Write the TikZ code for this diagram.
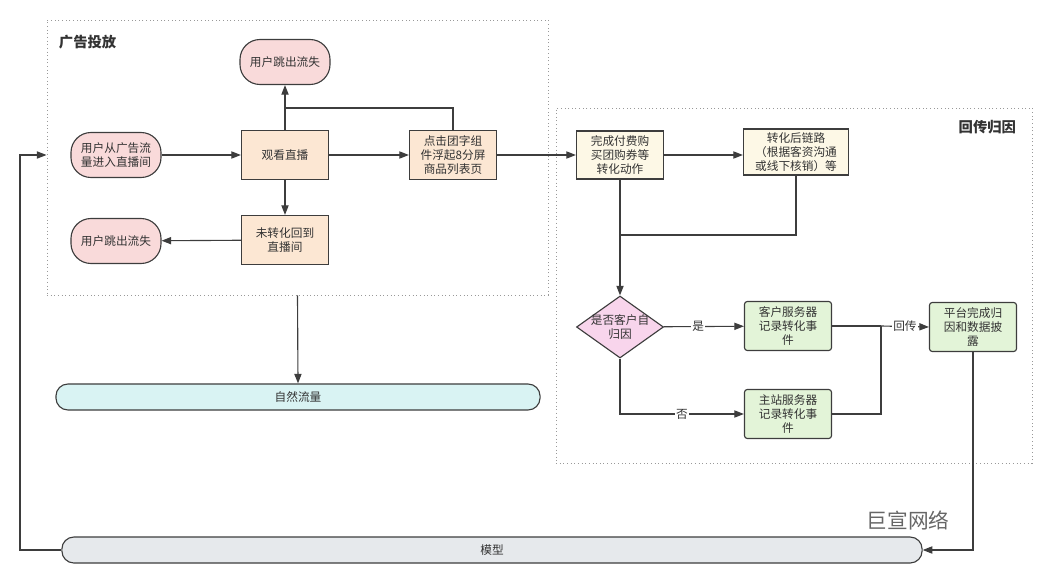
\documentclass[tikz,border=0pt]{standalone}
\usepackage{fontspec}
\setmainfont{Noto Sans CJK SC}
\usetikzlibrary{arrows.meta,positioning,shapes.geometric}

\definecolor{edgegray}{HTML}{3D3D3D}
\definecolor{textgray}{HTML}{333333}
\definecolor{lossred}{HTML}{F9DADA}
\definecolor{watchorange}{HTML}{FCE7D3}
\definecolor{buyyellow}{HTML}{FDF8E6}
\definecolor{eventgreen}{HTML}{E3F4D8}
\definecolor{decidepink}{HTML}{F8D5EC}
\definecolor{naturalcyan}{HTML}{D9F3F3}
\definecolor{modelgray}{HTML}{E6E9EC}

\begin{document}
\begin{tikzpicture}[
  x=0.025cm, y=-0.025cm,
  every node/.style={font=\fontsize{8.3}{10}\selectfont, text=textgray},
  base/.style={draw=edgegray, line width=0.8pt, align=center, inner sep=1pt},
  pill/.style={base, fill=lossred, rounded corners=0.5cm, minimum width=2.25cm, minimum height=1.125cm},
  flowbox/.style={base, fill=watchorange, minimum width=2.175cm, minimum height=1.225cm},
  buybox/.style={base, fill=buyyellow, minimum height=1.2cm},
  eventbox/.style={base, fill=eventgreen, rounded corners=2pt, minimum width=2.175cm, minimum height=1.225cm},
  decision/.style={base, diamond, aspect=1.4, fill=decidepink, minimum width=2.175cm, minimum height=1.55cm, inner sep=-2pt},
  bar/.style={base, rounded corners=0.3cm, minimum height=0.65cm},
  group/.style={draw=gray!80, dotted, line width=0.6pt},
  grouptitle/.style={font=\fontsize{10.2}{12}\selectfont\bfseries},
  arrow/.style={-{Triangle[length=2.4mm,width=1.8mm]}, draw=edgegray, line width=0.8pt},
  line/.style={draw=edgegray, line width=0.8pt},
  tag/.style={fill=white, inner sep=1pt}
]
\useasboundingbox (0,0) rectangle (1052,584);

% groups
\node[group, minimum width=12.525cm, minimum height=6.875cm] (adgroup) at (297.5,157.5) {};
\node[group, minimum width=11.9cm, minimum height=8.875cm] (backgroup) at (794,285.5) {};
\node[grouptitle, anchor=west] (adtitle) at (54,42) {广告投放};
\node[grouptitle, anchor=east] (backtitle) at (1021,127) {回传归因};

% ad side
\node[pill] (start) at (116,155) {用户从广告流\\量进入直播间};
\node[flowbox] (watch) at (285,155) {观看直播};
\node[flowbox] (click) at (453,155) {点击团字组\\件浮起8分屏\\商品列表页};
\node[pill] (lostTop) at (285,62) {用户跳出流失};
\node[flowbox] (back) at (285,240) {未转化回到\\直播间};
\node[pill] (lostLeft) at (116,241) {用户跳出流失};

% attribution side
\node[buybox, minimum width=2.175cm] (done) at (620,155) {完成付费购\\买团购券等\\转化动作};
\node[buybox, minimum width=2.625cm, minimum height=1.15cm] (chain) at (796,152) {转化后链路\\（根据客资沟通\\或线下核销）等};
\node[decision] (decide) at (620,327) {是否客户自\\归因};
\node[eventbox] (client) at (788,326) {客户服务器\\记录转化事\\件};
\node[eventbox] (site) at (788,414) {主站服务器\\记录转化事\\件};
\node[eventbox] (platform) at (973,327) {平台完成归\\因和数据披\\露};

% bottom bars
\node[bar, fill=naturalcyan, minimum width=12.1cm] (natural) at (298,397) {自然流量};
\node[bar, fill=modelgray, minimum width=21.5cm] (model) at (492,550) {模型};
\node[font=\fontsize{14.7}{16}\selectfont, text=gray!80!black] (watermark) at (908,520) {巨宣网络};

\coordinate (joinTop) at (285,108);
\coordinate (joinMid) at (620,235);
\coordinate (joinRight) at (881,326);
\coordinate (loopCorner) at (20,550);

\draw[arrow] (start) -- (watch);
\draw[arrow] (watch) -- (click);
\draw[arrow] (watch) -- (lostTop);
\draw[line] (click.north) |- (joinTop);
\draw[arrow] (watch) -- (back);
\draw[arrow] (back) -- (lostLeft);
\draw[arrow] (click) -- (done);
\draw[arrow] (done.east) -- (done.east -| chain.west);
\draw[arrow] (done) -- (decide);
\draw[line] (chain.south) |- (joinMid);
\draw[arrow] (decide) -- node[tag, pos=0.43] {是} (client);
\draw[arrow] (decide.south) |- node[tag, pos=0.75] {否} (site.west);
\draw[line] (client.east) -- (joinRight);
\draw[line] (site.east) -| (joinRight);
\draw[arrow] (joinRight) -- node[tag] {回传} (platform.west);
\draw[arrow] (platform.south) |- (model.east);
\draw[arrow] (model.west) -- (loopCorner) |- (adgroup.west |- start.west);
\draw[arrow] (adgroup.south) -- (natural.north);
\end{tikzpicture}
\end{document}
